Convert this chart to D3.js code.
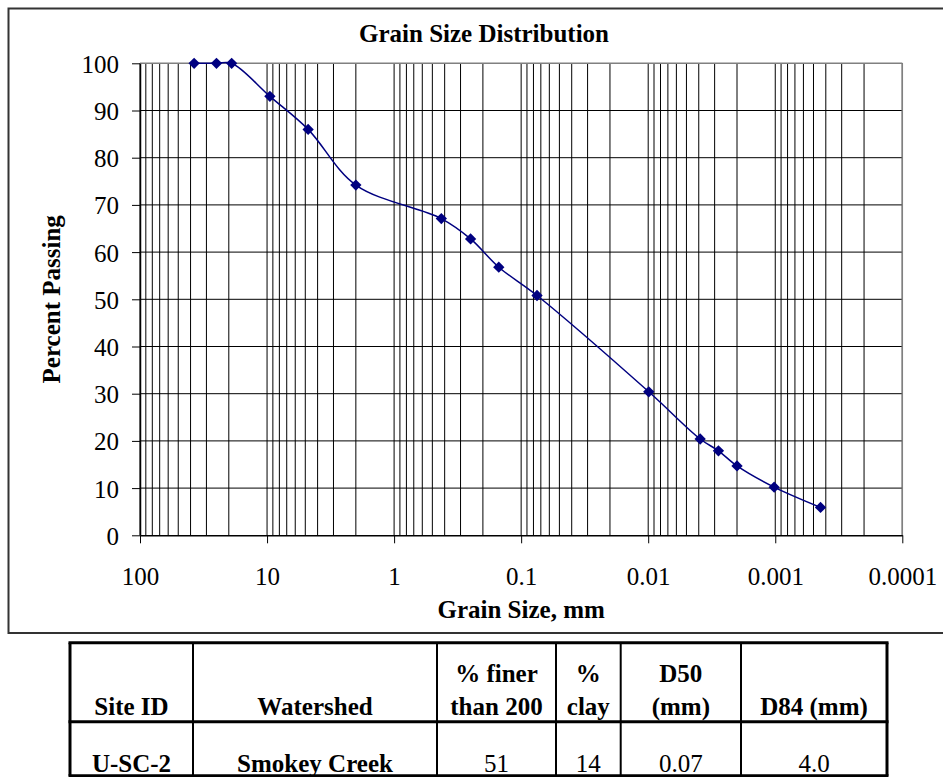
<!DOCTYPE html>
<html><head><meta charset="utf-8">
<script src="https://cdn.jsdelivr.net/npm/d3@7"></script>
<style>
body{margin:0;background:#fff}
svg{display:block}
text{font-family:"Liberation Serif","Times New Roman",serif;fill:#000}
</style>
</head><body><svg id="c" width="943" height="777"></svg>
<script>
// ---- data ----
const grainSize = [37.5, 25, 19, 9.5, 4.75, 2.0, 0.425, 0.25, 0.15, 0.075, 0.0099, 0.0039, 0.0028, 0.002, 0.00102, 0.00044];
const percentPassing = [100, 100, 100, 93, 86, 74.2, 67.1, 62.8, 56.8, 50.8, 30.4, 20.4, 17.9, 14.7, 10.2, 5.9];
const xTickValues = [100, 10, 1, 0.1, 0.01, 0.001, 0.0001];
const xTickLabels = ["100", "10", "1", "0.1", "0.01", "0.001", "0.0001"];
const yTickValues = [0, 10, 20, 30, 40, 50, 60, 70, 80, 90, 100];
const chartTitle = "Grain Size Distribution";
const xAxisTitle = "Grain Size, mm";
const yAxisTitle = "Percent Passing";
const tableHeaders = [["Site ID"], ["Watershed"], ["% finer", "than 200"], ["%", "clay"], ["D50", "(mm)"], ["D84 (mm)"]];
const tableRow = ["U-SC-2", "Smokey Creek", "51", "14", "0.07", "4.0"];
const tableRowBold = [true, true, false, false, false, false];

// ---- layout ----
const svg = d3.select("#c");
const L = 140, R = 902.3, T = 63.3, B = 535.3;
const x = d3.scaleLog().domain([100, 0.0001]).range([L, R]);
const y = d3.scaleLinear().domain([0, 100]).range([B, T]);

// outer chart frame
svg.append("rect").attr("x", 8.5).attr("y", 8.5).attr("width", 960).attr("height", 624.5)
  .attr("fill", "none").attr("stroke", "#333").attr("stroke-width", 2);

// vertical log gridlines
const gridVals = [];
for (let e = -4; e <= 1; e++) {
  for (let k = 1; k <= 9; k++) gridVals.push(k * Math.pow(10, e));
}
gridVals.push(100);
svg.append("g").selectAll("line").data(gridVals).join("line")
  .attr("x1", d => x(d)).attr("x2", d => x(d)).attr("y1", T).attr("y2", B)
  .attr("stroke", "#000").attr("stroke-width", 1);

// horizontal gridlines
svg.append("g").selectAll("line").data(yTickValues.filter(v => v > 0 && v < 100)).join("line")
  .attr("x1", L).attr("x2", R).attr("y1", d => y(d)).attr("y2", d => y(d))
  .attr("stroke", "#000").attr("stroke-width", 1);

// plot border top/right gray
svg.append("line").attr("x1", L).attr("x2", R).attr("y1", T).attr("y2", T).attr("stroke", "#808080").attr("stroke-width", 1.5);
svg.append("line").attr("x1", R).attr("x2", R).attr("y1", T).attr("y2", B).attr("stroke", "#808080").attr("stroke-width", 1.5);

// y axis
const yAxis = d3.axisLeft(y).tickValues(yTickValues).tickSize(8).tickSizeOuter(0).tickPadding(13).tickFormat(d3.format("d"));
const gy = svg.append("g").attr("transform", `translate(${L},0)`).call(yAxis);
gy.select(".domain").attr("stroke", "#000").attr("stroke-width", 1.5);
gy.selectAll(".tick line").attr("stroke", "#000");
gy.selectAll(".tick text").attr("font-size", 25).attr("font-family", "Liberation Serif").attr("dy", "0.36em");

// x axis
const xAxis = d3.axisBottom(x).tickValues(xTickValues).tickSize(8).tickSizeOuter(0).tickPadding(24)
  .tickFormat((d, i) => xTickLabels[i]);
const gx = svg.append("g").attr("transform", `translate(0,${B})`).call(xAxis);
gx.select(".domain").attr("stroke", "#000").attr("stroke-width", 1.5);
gx.selectAll(".tick line").attr("stroke", "#000");
gx.selectAll(".tick text").attr("font-size", 25).attr("font-family", "Liberation Serif");

// titles
svg.append("text").attr("x", 484).attr("y", 41.5).attr("text-anchor", "middle")
  .attr("font-size", 25).attr("font-weight", "bold").text(chartTitle);
svg.append("text").attr("x", (L + R) / 2).attr("y", 618).attr("text-anchor", "middle")
  .attr("font-size", 25).attr("font-weight", "bold").text(xAxisTitle);
svg.append("text").attr("transform", `translate(60,${(T + B) / 2}) rotate(-90)`).attr("text-anchor", "middle")
  .attr("font-size", 25).attr("font-weight", "bold").text(yAxisTitle);

// series
const pts = grainSize.map((s, i) => ({s, p: percentPassing[i]}));
const line = d3.line().x(d => x(d.s)).y(d => y(d.p)).curve(d3.curveCatmullRom.alpha(0.5));
svg.append("path").datum(pts).attr("d", line).attr("fill", "none").attr("stroke", "#000080").attr("stroke-width", 1.5);
const sym = d3.symbol(d3.symbolSquare, 64);
svg.append("g").selectAll("path").data(pts).join("path")
  .attr("d", sym).attr("transform", d => `translate(${x(d.s)},${y(d.p)}) rotate(45)`)
  .attr("fill", "#000080");

// ---- table ----
const colX = [70, 193, 437, 556, 620.7, 741, 887];
const rowY = [642.7, 721.7, 775.7];
const tg = svg.append("g");
tableHeaders.forEach((lines, i) => {
  const cx = (colX[i] + colX[i + 1]) / 2;
  lines.forEach((t, j) => {
    tg.append("text").attr("x", cx).attr("y", 715 - (lines.length - 1 - j) * 33.3)
      .attr("text-anchor", "middle").attr("font-size", 25).attr("font-weight", "bold").text(t);
  });
});
tableRow.forEach((t, i) => {
  const cx = (colX[i] + colX[i + 1]) / 2;
  tg.append("text").attr("x", cx).attr("y", 771.5).attr("text-anchor", "middle")
    .attr("font-size", 25).attr("font-weight", tableRowBold[i] ? "bold" : "normal").text(t);
});
// table lines
colX.forEach((cx, i) => {
  tg.append("line").attr("x1", cx).attr("x2", cx).attr("y1", rowY[0]).attr("y2", rowY[2])
    .attr("stroke", "#000").attr("stroke-width", (i === 0 || i === colX.length - 1) ? 3 : 2);
});
rowY.forEach((ry) => {
  tg.append("line").attr("x1", colX[0] - 1.5).attr("x2", colX[colX.length - 1] + 1.5).attr("y1", ry).attr("y2", ry)
    .attr("stroke", "#000").attr("stroke-width", 3);
});
</script>
</body></html>
